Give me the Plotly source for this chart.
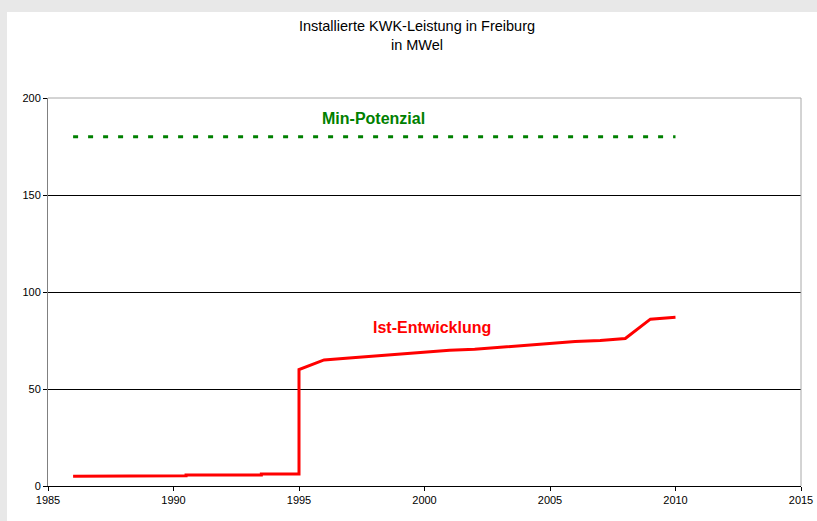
import plotly.graph_objects as go

# Data
ist_years = [1986, 1987.5, 1987.5, 1990.5, 1990.5, 1993.5, 1993.5, 1995, 1995,
             1996, 1997, 1998, 1999, 2000, 2001, 2002, 2003, 2004, 2005, 2006,
             2007, 2008, 2009, 2010]
ist_values = [5.0, 5.0, 5.3, 5.3, 5.7, 5.7, 6.2, 6.2, 60,
              65, 66, 67, 68, 69, 70, 70.5, 71.5, 72.5, 73.5, 74.5,
              75, 76, 86, 87]
pot_years = [1986, 2010]
pot_values = [180, 180]

x_ticks = [1985, 1990, 1995, 2000, 2005, 2010, 2015]
y_ticks = [0, 50, 100, 150, 200]

title_text = "Installierte KWK-Leistung in Freiburg<br>in MWel"
label_pot = "Min-Potenzial"
label_ist = "Ist-Entwicklung"

FONT = "Arial, Liberation Sans, sans-serif"

fig = go.Figure()
fig.add_trace(go.Scatter(x=pot_years, y=pot_values, mode="lines",
                         line=dict(color="#008000", width=3, dash="5px,10px"),
                         hoverinfo="skip"))
fig.add_trace(go.Scatter(x=ist_years, y=ist_values, mode="lines",
                         line=dict(color="#ff0000", width=3),
                         hoverinfo="skip"))

fig.add_annotation(x=1997.95, y=189.5, text=f"<b>{label_pot}</b>", showarrow=False,
                   font=dict(family=FONT, size=16, color="#008000"))
fig.add_annotation(x=2000.3, y=81.5, text=f"<b>{label_ist}</b>", showarrow=False,
                   font=dict(family=FONT, size=16, color="#ff0000"))

W, H = 817, 521
L, R, T, B = 48, 16, 98, 35
pw, ph = W - L - R, H - T - B

def px_x(p):
    return (p - L) / pw

def px_y(p):
    return (H - B - p) / ph

shapes = [
    # white chart area over light-grey frame
    dict(type="rect", xref="paper", yref="paper", x0=px_x(7), x1=px_x(W + 10),
         y0=px_y(12), y1=px_y(H + 10), fillcolor="white", line=dict(width=0),
         layer="below"),
    # top and right border of plot area
    dict(type="path", xref="paper", yref="paper", path="M 0,1 L 1,1 L 1,0",
         line=dict(color="#a8a8a8", width=1), layer="above"),
]

fig.update_layout(
    width=W, height=H,
    margin=dict(l=L, r=R, t=T, b=B, autoexpand=False),
    paper_bgcolor="#e8e8e8",
    plot_bgcolor="white",
    showlegend=False,
    shapes=shapes,
    title=dict(text=title_text, x=417 / W, xanchor="center", y=1 - 31 / H,
               yanchor="top", font=dict(family=FONT, size=14.5, color="black")),
    font=dict(family=FONT, size=11, color="black"),
    xaxis=dict(range=[1985, 2015], tickvals=x_ticks, showgrid=False,
               zeroline=False, showline=True, linecolor="black", linewidth=1,
               ticks="outside", ticklen=4, tickcolor="black", automargin=False,
               tickfont=dict(size=11), fixedrange=True),
    yaxis=dict(range=[0, 200], tickvals=y_ticks, showgrid=True,
               gridcolor="black", gridwidth=1, zeroline=False,
               showline=True, linecolor="#808080", linewidth=1,
               ticks="outside", ticklen=4, tickcolor="black", automargin=False,
               tickfont=dict(size=11), fixedrange=True),
)

fig.write_html(
    "out.html",
    config={"displayModeBar": False},
    post_script="document.body.style.margin='0';document.body.style.background='#e8e8e8';",
)
